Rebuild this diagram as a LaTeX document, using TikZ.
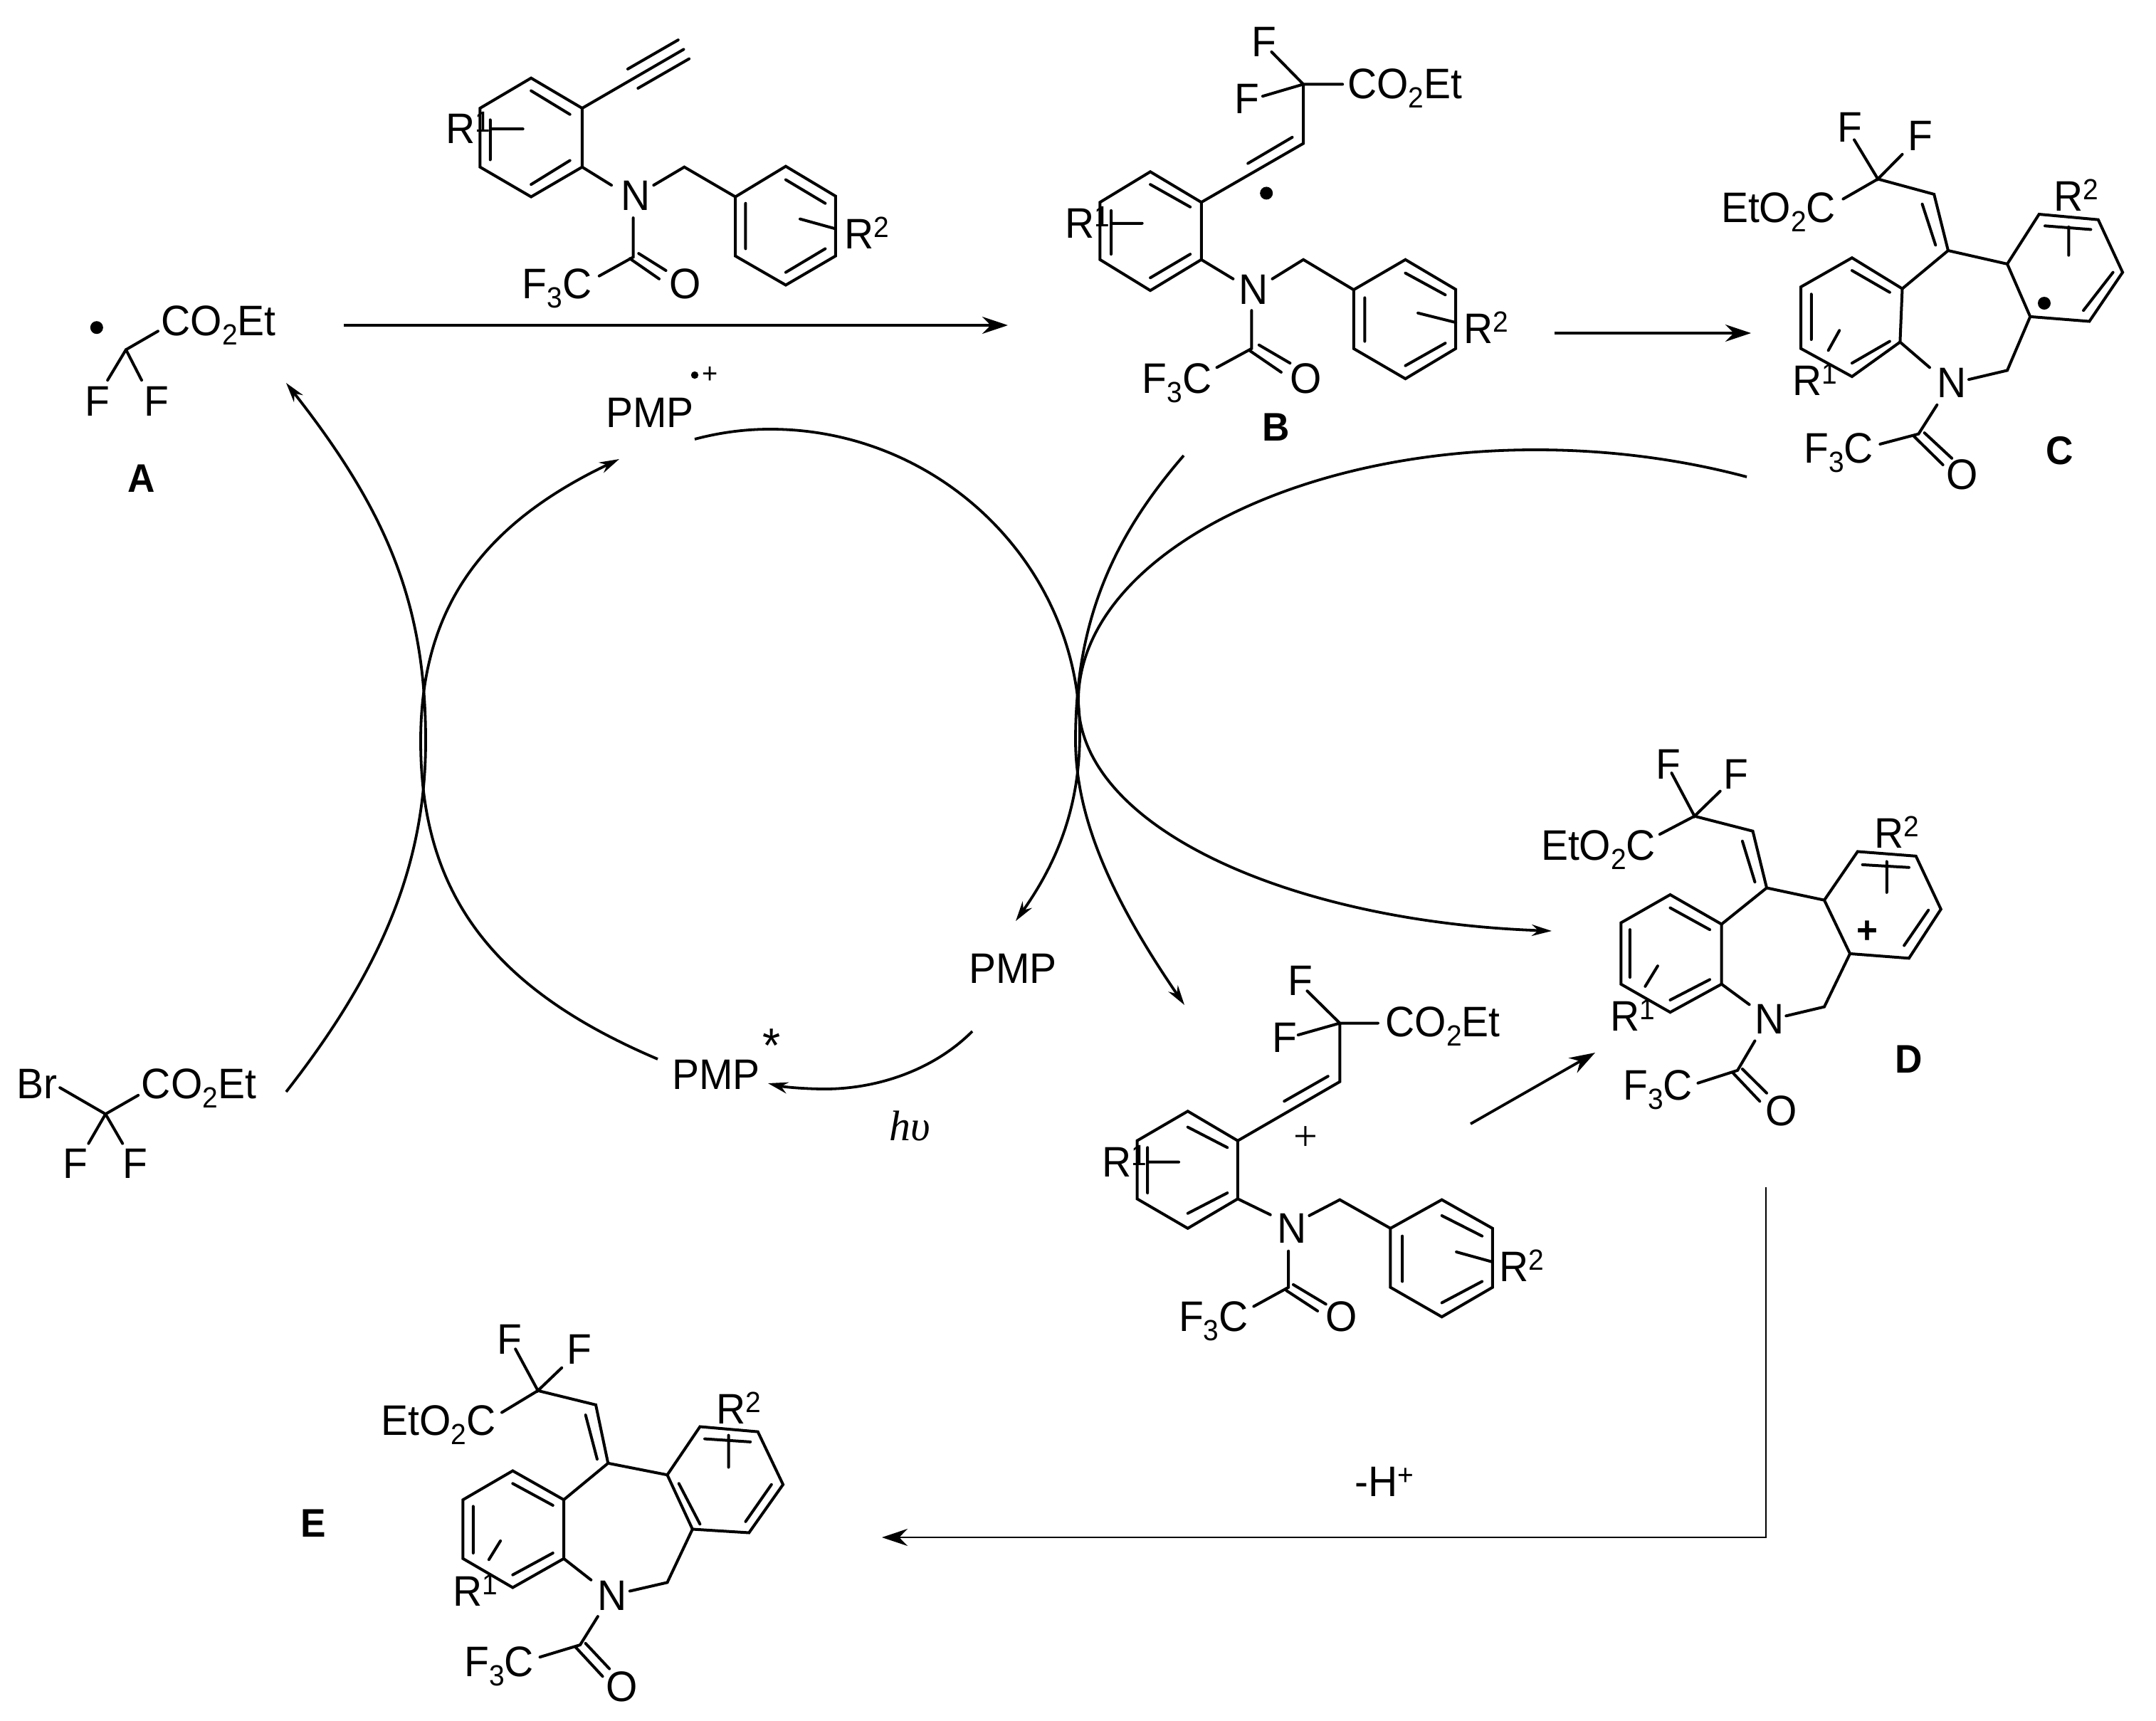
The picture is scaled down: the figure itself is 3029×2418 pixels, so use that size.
\documentclass[tikz,border=0pt]{standalone}
\usepackage{fontspec}
\setmainfont[FakeStretch=0.95]{Liberation Sans}
\newfontfamily\serfont{Liberation Serif}
\usetikzlibrary{arrows.meta}
\newcommand\chdn[1]{\raisebox{-6.5pt}{\fontsize{20.5}{21}\selectfont #1}}
\newcommand\chup[1]{\raisebox{8pt}{\fontsize{20.5}{21}\selectfont #1}}
\tikzset{
  lab/.style={anchor=base west,inner sep=0pt,outer sep=0pt,font=\fontsize{30}{33}\selectfont},
  tag/.style={anchor=center,inner sep=0pt,outer sep=0pt,font=\fontsize{28}{30}\selectfont\bfseries},
  bond/.style={line width=2pt,line cap=round,line join=miter},
  arc/.style={line width=1.9pt},
  thinline/.style={line width=1.4pt},
  curvetip/.style={-{Stealth[length=14pt,width=8pt]}},
  straighttip/.style={-{Stealth[length=18pt,width=12pt]}},
  radical/.style={fill=black},
  zoneA/.style={x=.4783pt,y=-.2551pt},
  zoneB/.style={xshift=700pt,x=.5194pt,y=-.2551pt},
  zoneC/.style={xshift=750pt,yshift=-500pt,x=.4876pt,y=-.3189pt},
  zoneD/.style={yshift=-650pt,x=.4783pt,y=-.3565pt},
}
\begin{document}
\begin{tikzpicture}[x=.5pt,y=-.5pt]
\useasboundingbox (0,0) rectangle (3029,2418);

% ===== top-left zone: A and the alkyne substrate
\begin{scope}[zoneA]
\fill[radical] (142,902) circle (4.5pt);
\draw[bond] (232,912)--(185,963)--(158,1047);
\draw[bond] (185,963)--(208,1047);
\node[lab] (aco) at (237,925) {CO\chdn{2}Et};
\node[lab] (af1) at (125,1145) {F};
\node[lab] (af2) at (212,1145) {F};
% substrate
\draw[bond] (780,215)--(855,298)--(855,460)--(780,542)--(705,460)--(705,298)--cycle;
\draw[bond] (780,250)--(837,315) (780,508)--(837,442) (720,330)--(720,440) (720,355)--(768,355);
\draw[bond] (855,298)--(1004,136) (922,190)--(996,110) (937,243)--(1012,162);
\draw[bond] (855,460)--(898,510) (960,510)--(1005,460)--(1080,542);
\draw[bond] (1080,542)--(1154,458)--(1227,540)--(1227,705)--(1154,785)--(1080,705)--cycle;
\draw[bond] (1154,495)--(1212,560) (1154,750)--(1212,685) (1095,560)--(1095,685) (1175,603)--(1227,630);
\draw[bond] (930,600)--(930,708)--(880,760) (925,712)--(968,768) (938,698)--(978,745);
\node[lab] (sr1) at (655,395) {R\chup{1}};
\node[lab] (sn) at (912,580) {N};
\node[lab] (sr2) at (1240,685) {R\chup{2}};
\node[lab] (sf) at (767,823) {F\chdn{3}C};
\node[lab] (so) at (983,823) {O};
\end{scope}

% ===== top-right zone: B and C
\begin{scope}[zoneB]
% B
\draw[bond] (372,143)--(415,232)--(360,265) (415,232)--(468,232) (415,232)--(415,395)--(277,557) (400,378)--(340,450);
\fill[radical] (365,532) circle (4.5pt);
\draw[bond] (208,473)--(277,557)--(277,715)--(208,800)--(140,715)--(140,557)--cycle;
\draw[bond] (208,508)--(262,570) (208,765)--(262,700) (155,580)--(155,700) (155,615)--(197,615);
\draw[bond] (277,715)--(320,768) (373,768)--(415,715)--(483,798);
\draw[bond] (483,798)--(553,715)--(621,797)--(621,960)--(553,1043)--(483,960)--cycle;
\draw[bond] (553,752)--(607,812) (553,1007)--(607,945) (498,820)--(498,940) (570,862)--(621,888);
\draw[bond] (345,855)--(345,960)--(298,1012) (342,965)--(385,1025) (355,950)--(397,1000);
\node[lab] (bf1) at (345,155) {F};
\node[lab] (bf2) at (322,312) {F};
\node[lab] (bco) at (475,272) {CO\chdn{2}Et};
\node[lab] (br1) at (93,655) {R\chup{1}};
\node[lab] (bn) at (328,838) {N};
\node[lab] (br2) at (632,945) {R\chup{2}};
\node[lab] (bf3) at (197,1083) {F\chdn{3}C};
\node[lab] (bo) at (397,1083) {O};
% C
\draw[bond] (1160,385)--(1192,493)--(1225,425) (1192,493)--(1145,548) (1192,493)--(1268,535)--(1287,690)--(1225,795) (1252,562)--(1270,675) (1287,690)--(1367,727);
\draw[bond] (1157,710)--(1225,795)--(1222,942)--(1157,1037)--(1088,960)--(1088,790)--cycle;
\draw[bond] (1157,745)--(1208,805) (1157,1000)--(1208,940) (1102,810)--(1102,935) (1125,965)--(1140,910);
\draw[bond] (1222,942)--(1262,1012) (1315,1045)--(1367,1020)--(1398,872);
\draw[bond] (1367,727)--(1410,590)--(1490,605)--(1523,750)--(1478,885)--(1398,872)--cycle;
\draw[bond] (1510,750)--(1470,855) (1418,622)--(1480,632) (1450,625)--(1450,703);
\fill[radical] (1417,835) circle (4.5pt);
\draw[bond] (1272,1115)--(1247,1195)--(1195,1223) (1240,1200)--(1280,1280) (1255,1192)--(1292,1262);
\node[lab] (cf1) at (1137,392) {F};
\node[lab] (cf2) at (1233,415) {F};
\node[lab] (cco) at (980,612) {EtO\chdn{2}C};
\node[lab] (cr2) at (1430,582) {R\chup{2}};
\node[lab] (cr1) at (1077,1088) {R\chup{1}};
\node[lab] (cn) at (1272,1095) {N};
\node[lab] (cf3) at (1092,1275) {F\chdn{3}C};
\node[lab] (co) at (1285,1347) {O};
\end{scope}

% ===== right-middle zone: cation and D
\begin{scope}[zoneC]
% cation
\draw[bond] (345,615)--(392,686)--(332,712) (392,686)--(447,686) (392,686)--(392,815)--(245,945) (375,803)--(312,858);
\draw[bond] (173,880)--(245,945)--(245,1073)--(173,1138)--(100,1073)--(100,945)--cycle;
\draw[bond] (173,915)--(230,960) (173,1105)--(230,1060) (115,960)--(115,1060) (115,992)--(160,992);
\draw[bond] (245,1073)--(292,1108) (348,1110)--(392,1075)--(465,1138);
\draw[bond] (465,1138)--(539,1075)--(612,1138)--(612,1268)--(539,1333)--(465,1268)--cycle;
\draw[bond] (539,1110)--(597,1155) (539,1302)--(597,1255) (482,1155)--(482,1255) (560,1190)--(612,1212);
\draw[bond] (318,1188)--(318,1268)--(268,1310) (315,1275)--(360,1320) (325,1262)--(372,1305);
\node[lab] (xf1) at (317,625) {F};
\node[lab] (xf2) at (295,750) {F};
\node[lab] (xco) at (458,716) {CO\chdn{2}Et};
\node[anchor=center,inner sep=0pt,font=\fontsize{30}{30}\selectfont\serfont] (xp) at (343,940) {+};
\node[lab] (xr1) at (50,1025) {R\chup{1}};
\node[lab] (xn) at (302,1170) {N};
\node[lab] (xr2) at (622,1255) {R\chup{2}};
\node[lab] (xf3) at (160,1365) {F\chdn{3}C};
\node[lab] (xo) at (372,1365) {O};
% D
\draw[bond] (870,135)--(903,230)--(940,175) (903,230)--(853,270) (903,230)--(987,263)--(1007,388)--(942,468) (972,285)--(990,375) (1007,388)--(1090,415);
\draw[bond] (868,403)--(942,468)--(942,600)--(868,662)--(797,600)--(797,465)--cycle;
\draw[bond] (868,432)--(925,480) (868,635)--(925,590) (810,480)--(810,585) (832,605)--(850,560);
\draw[bond] (942,600)--(982,645) (1035,670)--(1090,650)--(1127,533);
\draw[bond] (1090,415)--(1138,308)--(1222,318)--(1258,435)--(1212,543)--(1127,533)--cycle;
\draw[bond] (1240,437)--(1205,515) (1145,337)--(1212,343) (1180,330)--(1180,398);
\draw[bond] (990,725)--(965,790)--(908,818) (958,795)--(997,858) (972,787)--(1007,840);
\node[lab] (df1) at (847,148) {F};
\node[lab] (df2) at (945,170) {F};
\node[lab] (dco) at (682,327) {EtO\chdn{2}C};
\node[lab] (dr2) at (1162,300) {R\chup{2}};
\node[anchor=center,inner sep=0pt,font=\fontsize{27}{27}\selectfont\bfseries] (dp) at (1152,485) {+};
\node[lab] (dr1) at (782,703) {R\chup{1}};
\node[lab] (dn) at (990,710) {N};
\node[lab] (df3) at (800,855) {F\chdn{3}C};
\node[lab] (do) at (1005,912) {O};
\end{scope}

% ===== bottom-left zone: bromide and E
\begin{scope}[zoneD]
\draw[bond] (88,320)--(155,372)--(203,335) (155,372)--(130,430) (155,372)--(180,430);
\node[lab] (hbr) at (25,342) {Br};
\node[lab] (hco) at (208,342) {CO\chdn{2}Et};
\node[lab] (hf1) at (93,498) {F};
\node[lab] (hf2) at (180,498) {F};
% E
\draw[bond] (757,835)--(790,917)--(825,872) (790,917)--(737,960) (790,917)--(875,945)--(893,1060)--(828,1132) (860,965)--(877,1052) (893,1060)--(980,1083);
\draw[bond] (753,1075)--(828,1132)--(828,1248)--(753,1305)--(680,1248)--(680,1132)--cycle;
\draw[bond] (753,1100)--(812,1143) (753,1280)--(812,1237) (695,1145)--(695,1237) (718,1250)--(735,1213);
\draw[bond] (828,1248)--(868,1290) (925,1312)--(980,1295)--(1017,1190);
\draw[bond] (980,1083)--(1028,988)--(1113,998)--(1150,1102)--(1100,1197)--(1017,1190)--cycle;
\draw[bond] (997,1100)--(1028,1180) (1133,1102)--(1095,1175) (1035,1012)--(1102,1018) (1070,1005)--(1070,1068);
\draw[bond] (878,1362)--(852,1418)--(793,1442) (845,1422)--(885,1480) (860,1415)--(895,1465);
\node[lab] (ef1) at (730,845) {F};
\node[lab] (ef2) at (833,865) {F};
\node[lab] (eco) at (560,1005) {EtO\chdn{2}C};
\node[lab] (er2) at (1052,982) {R\chup{2}};
\node[lab] (er1) at (665,1342) {R\chup{1}};
\node[lab] (en) at (878,1350) {N};
\node[lab] (ef3) at (682,1480) {F\chdn{3}C};
\node[lab] (eo) at (890,1530) {O};
\end{scope}

% ===== letters
\node[tag] (ta) at (199,672) {A};
\node[tag] (tb) at (1793,600) {B};
\node[tag] (tc) at (2894,633) {C};
\node[tag] (td) at (2682,1488) {D};
\node[tag] (te) at (440,2140) {E};

% ===== catalyst labels
\node[lab] (pmpox) at (851,600) {PMP};
\fill[radical] (976,527) circle (2.6pt);
\node[anchor=center,inner sep=0pt,font=\fontsize{20}{20}\selectfont] (plusox) at (998,527) {+};
\node[lab] (pmp) at (1361,1381) {PMP};
\node[lab] (pmpx) at (944,1530) {PMP};
\node[anchor=base,inner sep=0pt,font=\fontsize{34}{34}\selectfont] (star) at (1084,1492) {*};
\node[lab,font=\fontsize{30}{32}\selectfont\serfont\itshape] (hv) at (1249,1602) {hυ};
\node[lab] (hplus) at (1903,2102) {-H\chup{+}};

% ===== endpoints of the arrows
\coordinate (s1) at (483,457);  \coordinate (e1) at (1416,457);
\coordinate (s2) at (2184,468); \coordinate (e2) at (2460,468);
\coordinate (s3) at (2066,1579);\coordinate (e3) at (2241,1479);
\coordinate (s4) at (2481,1668);\coordinate (c4) at (2481,2160);\coordinate (e4) at (1239,2160);
\coordinate (brs) at (402,1534); \coordinate (brm) at (598,1041); \coordinate (bre) at (402,538);
\coordinate (pxs) at (924,1488); \coordinate (pxm) at (591,1041); \coordinate (pxe) at (870,645);
\coordinate (pos) at (976,617);  \coordinate (pot) at (1082,603); \coordinate (pom) at (1517,1030); \coordinate (poe) at (1427,1294);
\coordinate (bs) at (1663,640);  \coordinate (bm) at (1511,1040); \coordinate (be) at (1664,1412);
\coordinate (cs) at (2454,670);  \coordinate (ct) at (2157,632);  \coordinate (cm) at (1515,985); \coordinate (ce) at (2180,1308);
\coordinate (ps) at (1366,1449); \coordinate (pm) at (1159,1530); \coordinate (pe) at (1079,1522);

% straight arrows
\draw[arc,straighttip] (s1)--(e1);
\draw[arc,straighttip] (s2)--(e2);
\draw[arc,straighttip] (s3)--(e3);
\draw[thinline,straighttip] (s4)--(c4)--(e4);

% curved arrows
\draw[arc,curvetip] (brs) .. controls (539,1359) and (598,1211) .. (brm) .. controls (598,850) and (545,720) .. (bre);
\draw[arc,curvetip] (pxs) .. controls (691,1389) and (591,1255) .. (pxm) .. controls (591,857) and (675,738) .. (pxe);
\draw[arc,curvetip] (pos) .. controls (1010,608) and (1045,603) .. (pot) .. controls (1321,603) and (1517,795) .. (pom) .. controls (1517,1126) and (1490,1205) .. (poe);
\draw[arc,curvetip] (bs) .. controls (1557,762) and (1511,882) .. (bm) .. controls (1511,1144) and (1557,1256) .. (be);
\draw[arc,curvetip] (cs) .. controls (2360,645) and (2260,632) .. (ct) .. controls (1804,632) and (1515,791) .. (cm) .. controls (1515,1163) and (1814,1295) .. (ce);
\draw[arc,curvetip] (ps) .. controls (1310,1505) and (1230,1530) .. (pm) .. controls (1130,1530) and (1100,1527) .. (pe);
\end{tikzpicture}
\end{document}
